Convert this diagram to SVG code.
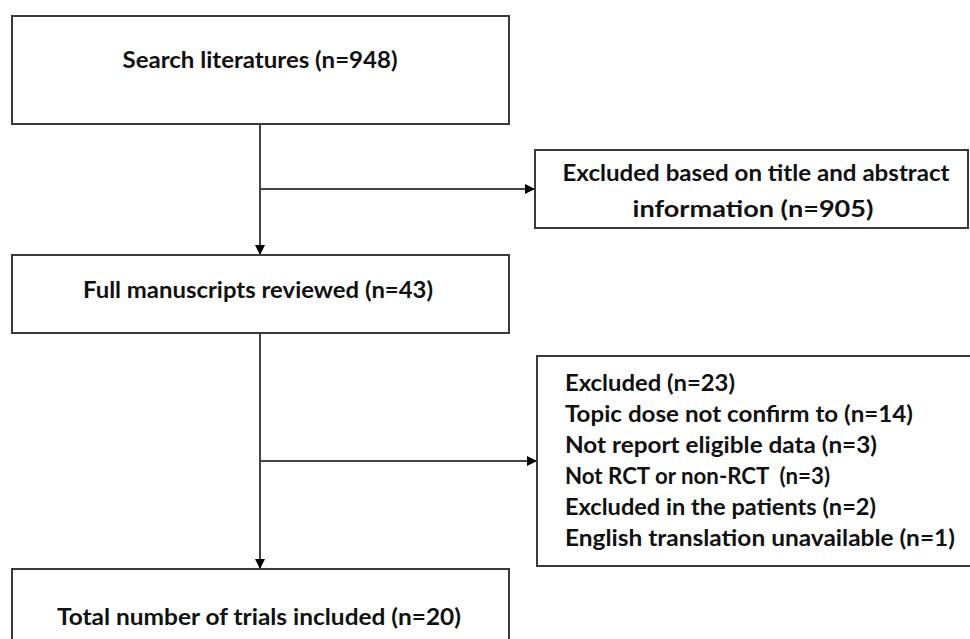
<svg xmlns="http://www.w3.org/2000/svg" width="970" height="639" viewBox="0 0 970 639">
<style>
.box{fill:#fff;stroke:#3a3a3a;stroke-width:2}
.t{font-family:Lato,"Open Sans","Liberation Sans",sans-serif;font-weight:bold;font-size:23px;fill:#111}
.c{text-anchor:middle}
.ln{stroke:#444;stroke-width:2;fill:none}
</style>
<defs>
<marker id="ah" markerWidth="10" markerHeight="10" refX="9" refY="5" orient="auto" markerUnits="userSpaceOnUse" viewBox="0 0 10 10">
<path d="M0,0 L10,5 L0,10 Z" fill="#000"/>
</marker>
</defs>
<rect width="970" height="639" fill="#fff"/>
<g id="connectors">
<line class="ln" x1="260" y1="124" x2="260" y2="254" marker-end="url(#ah)"/>
<line class="ln" x1="260" y1="189" x2="534" y2="189" marker-end="url(#ah)"/>
<line class="ln" x1="260" y1="333" x2="260" y2="568" marker-end="url(#ah)"/>
<line class="ln" x1="260" y1="461" x2="536" y2="461" marker-end="url(#ah)"/>
</g>
<g id="search">
<rect class="box" x="12" y="16" width="497" height="108"/>
<text class="t c" x="260" y="68" textLength="275" lengthAdjust="spacingAndGlyphs">Search literatures (n=948)</text>
</g>
<g id="excluded1">
<rect class="box" x="535" y="150" width="433" height="78"/>
<text class="t c" x="756" y="181" textLength="387" lengthAdjust="spacingAndGlyphs">Excluded based on title and abstract</text>
<text class="t c" x="753" y="217" textLength="241" lengthAdjust="spacingAndGlyphs">information (n=905)</text>
</g>
<g id="fullreview">
<rect class="box" x="12" y="255" width="497" height="78"/>
<text class="t c" x="258" y="298" textLength="350" lengthAdjust="spacingAndGlyphs">Full manuscripts reviewed (n=43)</text>
</g>
<g id="excluded2">
<rect class="box" x="537" y="356" width="445" height="210"/>
<text class="t" x="565" y="391" textLength="170" lengthAdjust="spacingAndGlyphs">Excluded (n=23)</text>
<text class="t" x="565" y="422" textLength="348" lengthAdjust="spacingAndGlyphs">Topic dose not confirm to (n=14)</text>
<text class="t" x="565" y="453" textLength="312" lengthAdjust="spacingAndGlyphs">Not report eligible data (n=3)</text>
<text class="t" x="565" y="484" textLength="265" lengthAdjust="spacingAndGlyphs" xml:space="preserve">Not RCT or non-RCT  (n=3)</text>
<text class="t" x="565" y="515" textLength="311" lengthAdjust="spacingAndGlyphs">Excluded in the patients (n=2)</text>
<text class="t" x="565" y="546" textLength="390" lengthAdjust="spacingAndGlyphs">English translation unavailable (n=1)</text>
</g>
<g id="total">
<rect class="box" x="12" y="569" width="497" height="100"/>
<text class="t c" x="259" y="625" textLength="404" lengthAdjust="spacingAndGlyphs">Total number of trials included (n=20)</text>
</g>
</svg>
